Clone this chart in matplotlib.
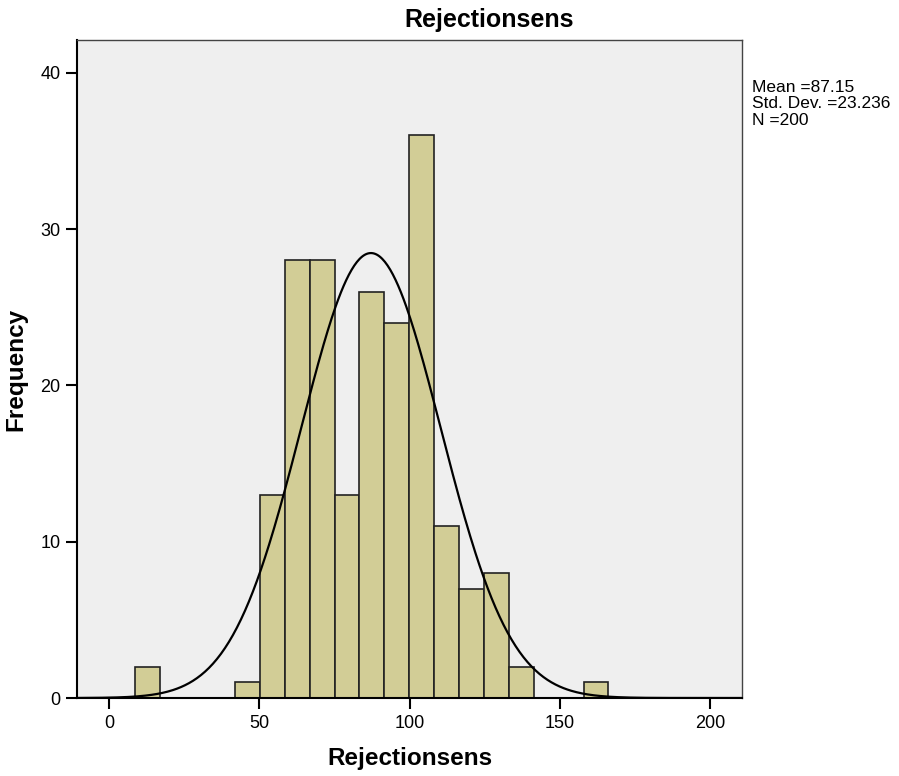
import numpy as np
import matplotlib
matplotlib.use("Agg")
import matplotlib.pyplot as plt

plt.rcParams['font.family'] = ['Liberation Sans', 'DejaVu Sans']

# histogram data
bin_start = 8.7
bin_width = 8.29
counts = [2, 0, 0, 0, 1, 13, 28, 28, 13, 26, 24, 36, 11, 7, 8, 2, 0, 0, 1]
mean = 87.15
std = 23.236
n = 200

edges = bin_start + bin_width * np.arange(len(counts) + 1)

fig = plt.figure(figsize=(8.99, 7.76), dpi=100)
ax = fig.add_axes([0.0857, 0.1005, 0.7397, 0.848])
ax.set_facecolor('#efefef')

ax.bar(edges[:-1], counts, width=bin_width, align='edge',
       color='#d2cd96', edgecolor='#222222', linewidth=1.2, zorder=2)

xlo, xhi = -10.7, 210.7
xs = np.linspace(xlo, xhi, 500)
ys = n * bin_width / (std * np.sqrt(2 * np.pi)) * np.exp(-0.5 * ((xs - mean) / std) ** 2)
ax.plot(xs, ys, color='black', linewidth=1.6, zorder=3)

ax.set_xlim(xlo, xhi)
ax.set_ylim(0, 42.1)
ax.set_xticks([0, 50, 100, 150, 200])
ax.set_yticks([0, 10, 20, 30, 40])
ax.tick_params(direction='out', length=8, width=1.5, labelsize=13, pad=4)
for s in ['left', 'bottom']:
    ax.spines[s].set_linewidth(1.5)
    ax.spines[s].set_color('black')
for s in ['top', 'right']:
    ax.spines[s].set_linewidth(1.0)
    ax.spines[s].set_color('#444444')

# SPSS puts the title a bit right of the plot centre
fig.text(489 / 899, 1 - 20 / 776, 'Rejectionsens', fontsize=18, fontweight='bold',
         ha='center', va='center')
ax.set_xlabel('Rejectionsens', fontsize=17.5, fontweight='bold')
ax.set_ylabel('Frequency', fontsize=17.5, fontweight='bold')
ax.xaxis.set_label_coords(0.5, -0.075)
ax.yaxis.set_label_coords(-0.075, 0.5)

fig.text(0.837, 0.866, 'Mean =87.15\nStd. Dev. =23.236\nN =200',
         fontsize=12.5, va='center', ha='left', linespacing=1.15)

fig.savefig('out.png', dpi=100, facecolor='white')
